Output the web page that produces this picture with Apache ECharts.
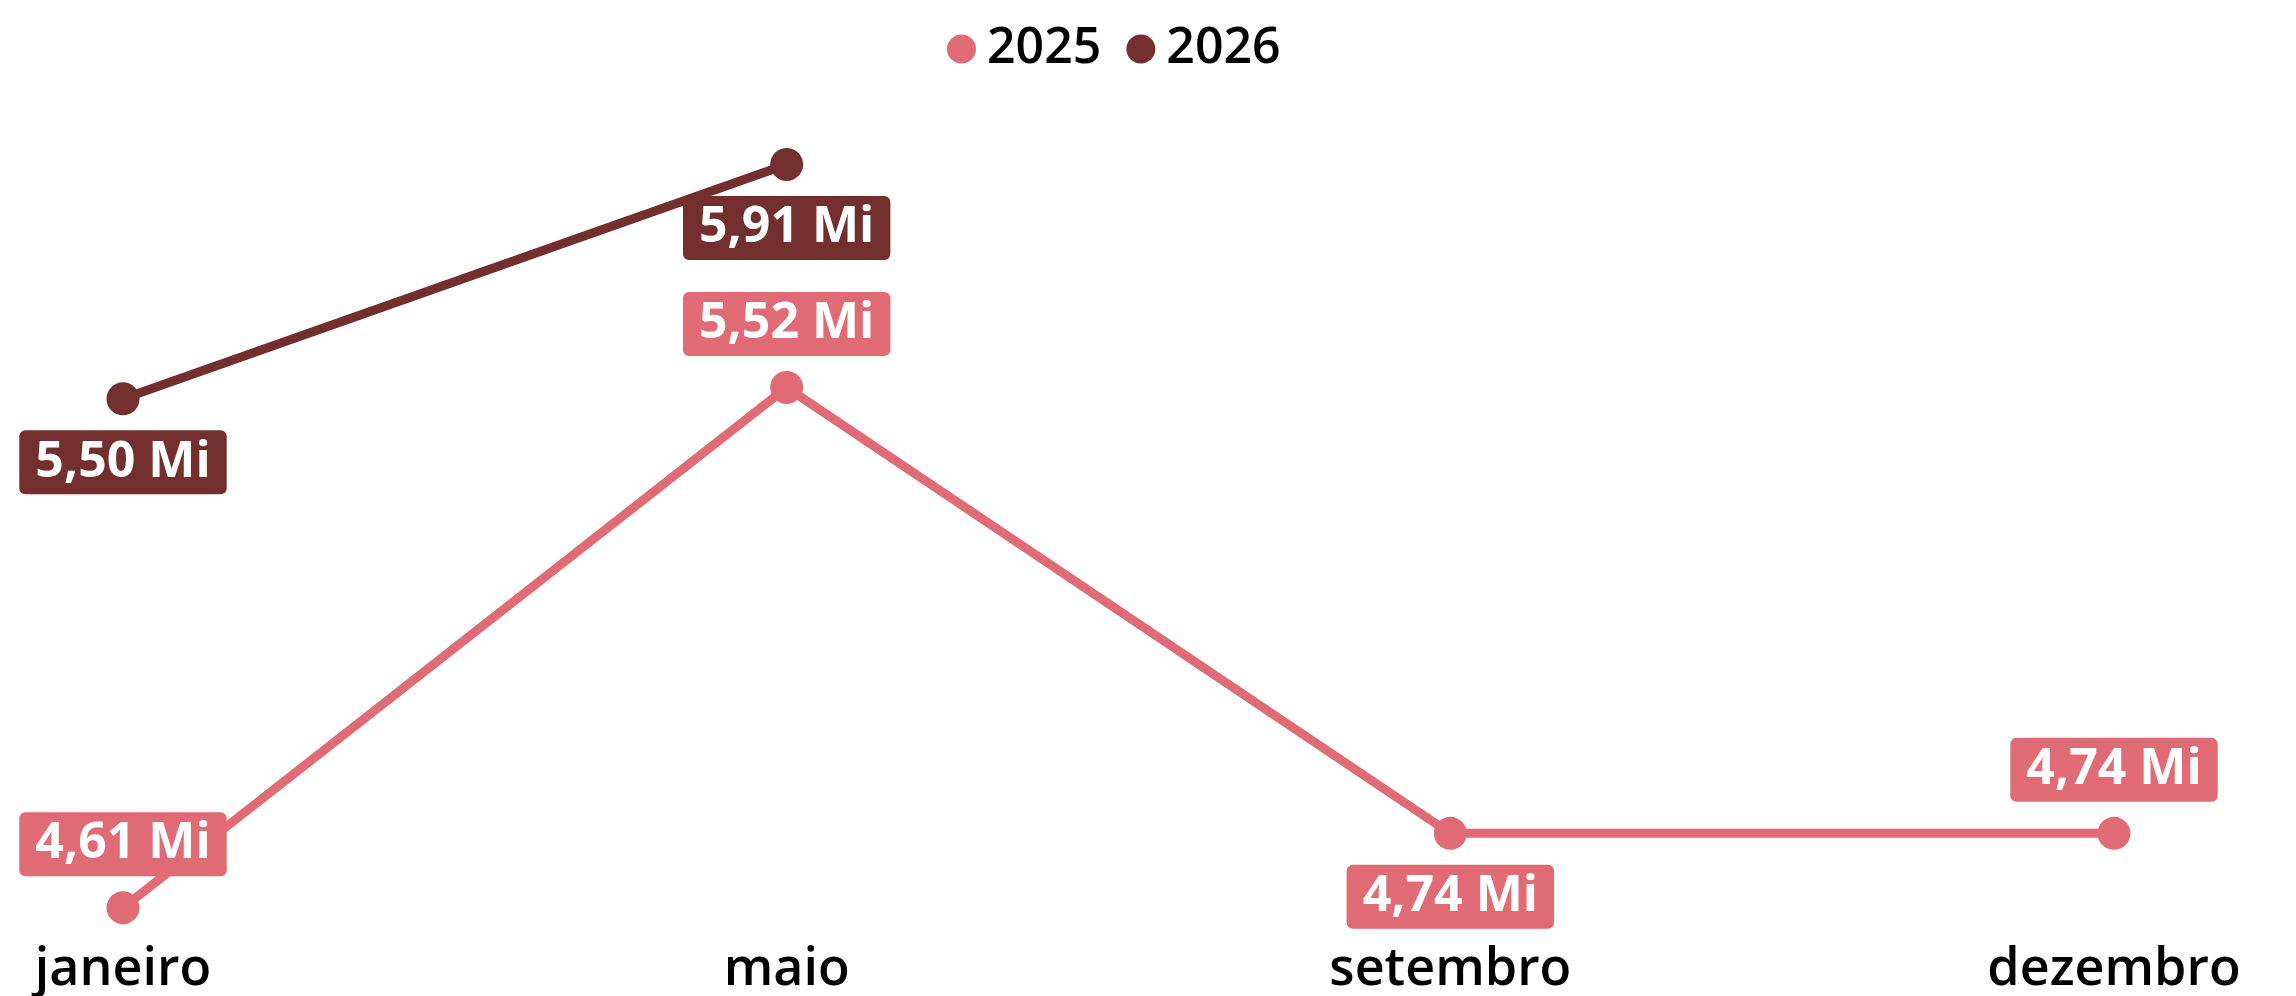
<!DOCTYPE html>
<html>
<head>
<meta charset="utf-8">
<script src="https://cdn.jsdelivr.net/npm/echarts@6/dist/echarts.min.js"></script>
<style>
  html, body { margin: 0; padding: 0; background: #fff; }
  #chart { width: 2296px; height: 996px; }
</style>
</head>
<body>
<div id="chart"></div>
<script>
// values in millions
const categories = ['janeiro', 'maio', 'setembro', 'dezembro']
const values2025 = [4.61, 5.52, 4.74, 4.74]
const values2026 = [5.50, 5.91, null, null]

const color2025 = '#E06B74'
const color2026 = '#732E2E'
const fontFamily = '"Open Sans", "Noto Sans", sans-serif'

// where each value label sits relative to its point
const labelSide2025 = ['top', 'top', 'bottom', 'top']
const labelSide2026 = ['bottom', 'bottom', 'bottom', 'bottom']

function fmt(v) {
  return v.toFixed(2).replace('.', ',') + ' Mi'
}

function buildData(values, sides) {
  return values.map((v, i) => ({
    value: v,
    label: { position: sides[i] }
  }))
}

function makeSeries(name, values, sides, color) {
  return {
    name: name,
    type: 'line',
    data: buildData(values, sides),
    symbol: 'circle',
    symbolSize: 33,
    showAllSymbol: true,
    connectNulls: false,
    lineStyle: { width: 9, color: color },
    itemStyle: { color: color },
    label: {
      show: true,
      distance: 15,
      formatter: p => fmt(p.value),
      color: '#fff',
      fontFamily: fontFamily,
      fontWeight: 'bold',
      fontSize: 50,
      lineHeight: 50,
      backgroundColor: color,
      borderRadius: 6,
      padding: [7, 16]
    },
    emphasis: { disabled: true }
  }
}

const chart = echarts.init(document.getElementById('chart'))

chart.setOption({
  animation: false,
  legend: {
    left: 947,
    top: 24,
    padding: 0,
    icon: 'circle',
    itemWidth: 29,
    itemHeight: 29,
    itemGap: 25,
    textStyle: {
      fontFamily: fontFamily,
      fontSize: 50,
      fontWeight: 600,
      color: '#000',
      padding: [0, 0, 0, 6]
    },
    data: ['2025', '2026']
  },
  grid: {
    left: 123,
    right: 182,
    top: 113,
    bottom: 48,
    containLabel: false
  },
  xAxis: {
    type: 'category',
    boundaryGap: false,
    data: categories,
    axisLine: { show: false },
    axisTick: { show: false },
    axisLabel: {
      margin: 2,
      fontFamily: fontFamily,
      fontSize: 52,
      fontWeight: 600,
      color: '#000'
    }
  },
  yAxis: {
    type: 'value',
    min: 4.55,
    max: 6.0,
    show: false,
    splitLine: { show: false }
  },
  series: [
    makeSeries('2025', values2025, labelSide2025, color2025),
    makeSeries('2026', values2026, labelSide2026, color2026)
  ]
})
</script>
</body>
</html>
